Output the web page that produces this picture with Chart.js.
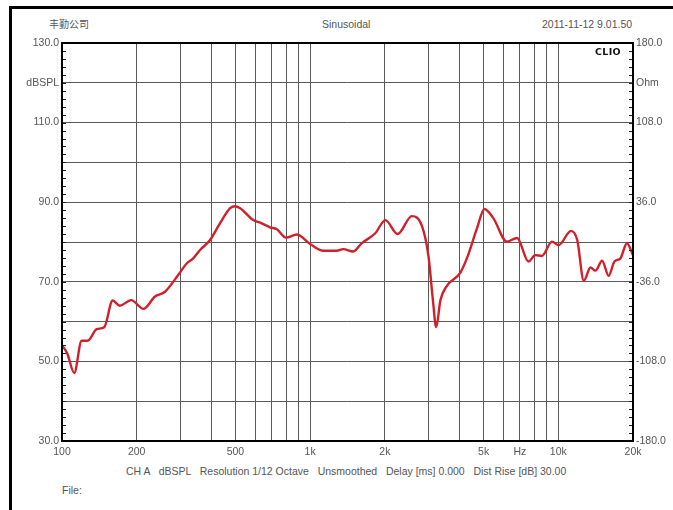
<!DOCTYPE html>
<html>
<head>
<meta charset="utf-8">
<script src="https://cdn.jsdelivr.net/npm/chart.js@4"></script>
<style>
  html,body{margin:0;padding:0;background:#fff;}
  #wrap{position:relative;width:673px;height:510px;overflow:hidden;font-family:"Liberation Sans",Arial,sans-serif;color:#555;}
  #frame{position:absolute;left:9px;top:6px;width:700px;height:600px;border-top:3px solid #000;border-left:3px solid #000;}
  .t{position:absolute;font-size:10.5px;white-space:pre;line-height:12px;}
  #clio{position:absolute;left:595px;top:46px;font-family:"DejaVu Sans",sans-serif;font-weight:bold;font-size:9.5px;color:#111;letter-spacing:0.3px;}
  canvas{position:absolute;left:0;top:0;}
</style>
</head>
<body>
<div id="wrap">
  <div id="frame"></div>
  <div class="t" style="left:49px;top:18px;font-family:'Noto Sans CJK SC',sans-serif;font-size:10px;">丰勤公司</div>
  <div class="t" style="left:322px;top:18px;">Sinusoidal</div>
  <div class="t" style="left:542px;top:18px;">2011-11-12 9.01.50</div>
  <div class="t" style="left:126px;top:465px;">CH A   dBSPL   Resolution 1/12 Octave   Unsmoothed   Delay [ms] 0.000   Dist Rise [dB] 30.00</div>
  <div class="t" style="left:62px;top:484px;">File:</div>
  <canvas id="c" width="673" height="510"></canvas>
  <div id="clio">CLIO</div>
</div>
<script>
// ---- data ----
const freq = [100,105,112,120,127,138,148,160,171,190,213,237,260,294,318,338,360,395,433,476,498,522,590,638,689,734,800,884,1000,1130,1280,1360,1490,1615,1830,2010,2250,2570,2830,3000,3124,3220,3350,3540,4030,4330,4700,5040,5470,6210,6820,7590,8070,8590,9430,10030,11250,11920,12670,13480,14120,15010,15960,16830,17800,18900,20000];
const spl  = [54.1,52.0,47.1,55.2,55.2,58.1,58.6,65.3,64.0,65.4,63.2,66.3,67.5,71.7,74.6,75.9,78.0,80.5,84.7,88.5,89.0,88.5,85.5,84.7,83.7,83.2,81.1,81.9,79.5,77.8,77.8,78.2,77.6,79.7,82.2,85.5,82.0,86.5,83.8,76.3,65.4,58.6,65.4,68.8,72.3,76.7,83.4,88.3,86.0,80.1,81.0,75.1,76.7,76.5,80.1,79.2,82.8,80.5,70.3,73.6,72.8,75.3,71.5,75.1,75.9,79.7,76.7];
const xGrid = [100,200,300,400,500,600,700,800,900,1000,2000,3000,4000,5000,6000,7000,8000,9000,10000,20000];
const xLabels = {100:'100',200:'200',500:'500',1000:'1k',2000:'2k',5000:'5k',7000:'Hz',10000:'10k',20000:'20k'};
const leftLabels = ['30.0','','50.0','','70.0','','90.0','','110.0','dBSPL','130.0'];
const rightLabels = ['-180.0','','-108.0','','-36.0','','36.0','','108.0','Ohm','180.0'];

const tickFont = {family:'"Liberation Sans", Arial, sans-serif', size:10.5};
const gridColor = '#5a5a5a';

const framePlugin = {
  id:'frame',
  afterDraw(chart){
    const {ctx, chartArea:a, scales} = chart;
    ctx.save();
    ctx.strokeStyle = '#222';
    ctx.lineWidth = 1;
    const y = scales.y;
    for(let v=30; v<=130; v+=2){
      const py = Math.round(y.getPixelForValue(v))+0.5;
      ctx.beginPath(); ctx.moveTo(a.left, py); ctx.lineTo(a.left+4, py); ctx.stroke();
      ctx.beginPath(); ctx.moveTo(a.right-4, py); ctx.lineTo(a.right, py); ctx.stroke();
    }
    ctx.strokeStyle = '#000';
    ctx.lineWidth = 2;
    ctx.strokeRect(a.left, a.top, a.right-a.left, a.bottom-a.top);
    ctx.restore();
  }
};

new Chart(document.getElementById('c'), {
  type:'line',
  data:{
    datasets:[{
      data: freq.map((f,i)=>({x:f, y:spl[i]})),
      borderColor:'#d0212b',
      borderWidth:2.4,
      pointRadius:0,
      cubicInterpolationMode:'monotone',
      fill:false
    }]
  },
  options:{
    responsive:false,
    animation:false,
    devicePixelRatio:1,
    layout:{padding:{top:43,left:0,right:0,bottom:0}},
    plugins:{legend:{display:false}, tooltip:{enabled:false}},
    scales:{
      x:{
        type:'logarithmic', min:100, max:20000,
        afterBuildTicks(s){ s.ticks = xGrid.map(v=>({value:v})); },
        afterFit(s){ s.height = 69; },
        ticks:{autoSkip:false, maxRotation:0, padding:5, color:'#555', font:tickFont,
          callback:(v)=> xLabels[v] !== undefined ? xLabels[v] : ''},
        grid:{color:gridColor, lineWidth:1, drawTicks:false},
        border:{display:false}
      },
      y:{
        type:'linear', position:'left', min:30, max:130,
        afterFit(s){ s.width = 62; },
        ticks:{stepSize:10, padding:3, color:'#555', font:tickFont,
          callback:(v)=>{ const i=Math.round((v-30)/10); return leftLabels[i] ?? ''; }},
        grid:{color:gridColor, lineWidth:1, drawTicks:false},
        border:{display:false}
      },
      y2:{
        type:'linear', position:'right', min:-180, max:180,
        afterFit(s){ s.width = 40; },
        ticks:{stepSize:36, padding:3, color:'#555', font:tickFont,
          callback:(v)=>{ const i=Math.round((v+180)/36); return rightLabels[i] ?? ''; }},
        grid:{drawOnChartArea:false, drawTicks:false},
        border:{display:false}
      }
    }
  },
  plugins:[framePlugin]
});
</script>
</body>
</html>
